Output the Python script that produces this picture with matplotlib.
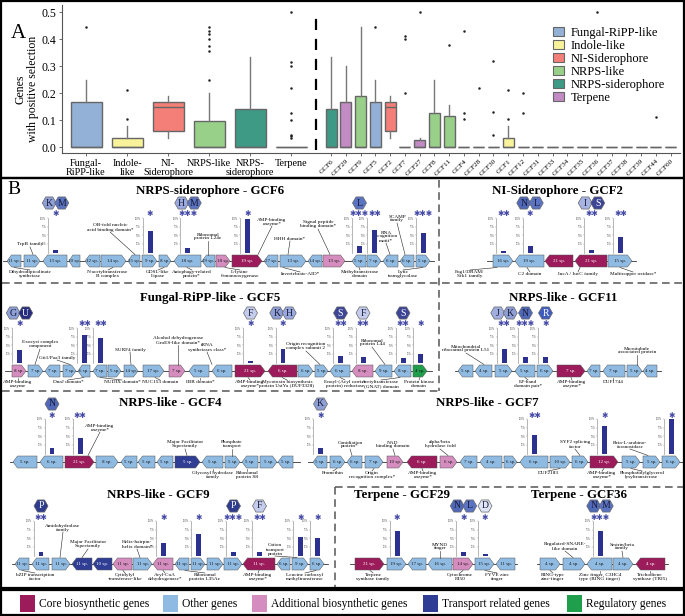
import numpy as np
import matplotlib
matplotlib.use('Agg')
from matplotlib import pyplot as plt
from matplotlib.patches import Polygon, RegularPolygon, Rectangle, Patch

plt.rcParams['font.family'] = ['Liberation Serif', 'DejaVu Serif', 'DejaVu Sans']

W, H = 685, 616

# ---------------- panel A data ----------------
BGC_TYPES = ['Fungal-RiPP-like', 'Indole-like', 'NI-Siderophore', 'NRPS-like',
             'NRPS-siderophore', 'Terpene']
BGC_TICKS = ['Fungal-\nRiPP-like', 'Indole-\nlike', 'NI-\nSiderophore', 'NRPS-like',
             'NRPS-\nsiderophore', 'Terpene']
TYPE_Q1 = [0, 0, 0.06, 0, 0, 0]
TYPE_MED = [0, 0, 0.148, 0, 0, 0]
TYPE_Q3 = [0.167, 0.033, 0.167, 0.095, 0.14, 0]
TYPE_WLO = [0, 0, 0.033, 0, 0, 0]
TYPE_WHI = [0.25, 0.077, 0.19, 0.2, 0.333, 0]
TYPE_FLIERS = [[0.444], [0.105, 0.21], [],
               [0.25, 0.357, 0.375, 0.4, 0.417, 0.429, 0.444], [],
               [0.033, 0.04, 0.043, 0.1, 0.125, 0.22, 0.3, 0.316, 0.5]]

GCF_NAMES = ['GCF6', 'GCF29', 'GCF9', 'GCF5', 'GCF2', 'GCF7', 'GCF27', 'GCF8', 'GCF11',
             'GCF4', 'GCF28', 'GCF30', 'GCF1', 'GCF12', 'GCF31', 'GCF33', 'GCF34',
             'GCF35', 'GCF36', 'GCF37', 'GCF38', 'GCF39', 'GCF44', 'GCF60']
GCF_TYPE = [4, 5, 3, 0, 2, 3, 5, 3, 3, 3, 5, 3, 1, 3, 3, 3, 5, 3, 5, 3, 3, 3, 3, 3]
GCF_Q1 = [0, 0, 0, 0, 0.06] + [0] * 19
GCF_MED = [0, 0, 0, 0, 0.149] + [0] * 19
GCF_Q3 = [0.14, 0.167, 0.19, 0.167, 0.167, 0, 0.025, 0.125, 0.114, 0, 0, 0, 0.033] + [0] * 11
GCF_WLO = [0, 0, 0, 0, 0.033] + [0] * 19
GCF_WHI = [0.333, 0.3, 0.445, 0.25, 0.19, 0, 0.033, 0.25, 0.154, 0, 0, 0, 0.077] + [0] * 11
GCF_FLIERS = [[], [], [], [0.444], [], [0.2, 0.4, 0.412], [0.5], [], [0.378],
              [0.103, 0.127, 0.43], [0.22], [0.044, 0.13, 0.32], [0.105, 0.21],
              [0.125, 0.2], [], [], [], [], [0.5], [], [], [], [0.111], []]

TYPE_COLORS = ['#93b0d7', '#f8f39b', '#f47f78', '#98d08a', '#3e9985', '#c28bc3']

# ---------------- panel B data ----------------
# genes: (species, kind, direction); kind c=core o=other a=additional t=transport r=regulatory
# bars: (gene index, % of species under positive selection, n stars, domain badges)
# notes: (text, text x, text edge y, gene x)
GCF6_GENES = [(11, 'o', -1), (11, 'o', 1), (13, 'o', -1), (10, 'o', -1), (12, 'o', -1),
              (14, 'o', 1), (15, 'o', -1), (9, 'o', 1), (8, 'o', 1), (18, 'o', -1),
              (19, 'o', -1), (18, 'a', 1), (19, 'c', 1), (27, 'o', -1), (13, 'o', 1),
              (14, 'o', -1), (13, 'a', 1), (5, 'o', -1), (7, 'o', 1), (6, 'o', -1),
              (6, 'o', -1), (5, 'o', 1)]
GCF6_BARS = [(2, 7, 1, 'KM'), (7, 63, 1, ''), (9, 12, 3, 'HM'), (12, 98, 1, ''),
             (17, 20, 3, 'L'), (18, 65, 2, ''), (21, 57, 3, '')]
GCF6_UP = [('TrpB family', 30, 247, 33), ('OB-fold nucleic\nacid binding domain*', 110, 232, 135),
           ('Ribosomal\nprotein L24e', 208, 241, 208), ('AMP-binding\nenzyme*', 272, 226, 258),
           ('HHH domain*', 290, 241, 288), ('Signal peptide\nbinding domain*', 318, 229, 330),
           ('SCAMP\nfamily', 397, 223, 405), ('RNA\nrecognition\nmotif*', 386, 243, 390)]
GCF6_DOWN = [('Dihydrodipicolinate\nsynthetase', 30, 270, 14), ('N-acetyltransferase\nB complex', 108, 270, 113),
             ('GDSL-like\nLipase', 158, 270, 164), ('Autophagy-related\nprotein*', 192, 270, 187),
             ('L-lysine\n6-monooxygenase', 240, 270, 225), ('Invertebrate-AID*', 300, 272, 283),
             ('Methyltransferase\ndomain', 360, 270, 359), ('Lytic\ntransglycolase', 403, 270, 423)]

GCF2_GENES = [(16, 'o', 1), (19, 'o', -1), (21, 'c', -1), (21, 'c', -1), (15, 'o', 1)]
GCF2_BARS = [(0, 5, 2, ''), (1, 20, 1, 'NL'), (3, 7, 2, 'IS'), (4, 45, 2, '')]
GCF2_UP = []
GCF2_DOWN = [('Fog1/DRAM/\nSfk1 family', 470, 270, 497), ('C2 domain', 530, 272, 527),
             ('IucA / IucC family', 578, 272, 580), ('Multicopper oxidase*', 633, 272, 620)]

GCF5_GENES = [(8, 'a', 1), (7, 'o', 1), (7, 'o', -1), (7, 'o', 1), (6, 'o', -1), (7, 'o', -1),
              (5, 'o', 1), (14, 'o', 1), (17, 'o', 1), (7, 'a', 1), (5, 'o', -1), (6, 'o', -1),
              (21, 'c', 1), (6, 'c', -1), (6, 'o', 1), (5, 'o', 1), (6, 'o', -1), (8, 'a', -1),
              (9, 'o', -1), (8, 'o', -1), (4, 'r', 1)]
GCF5_BARS = [(0, 35, 1, 'GU'), (4, 80, 2, ''), (5, 72, 2, ''), (12, 5, 1, 'F'),
             (13, 38, 1, 'KH'), (16, 20, 2, 'S'), (17, 15, 2, 'F'), (19, 13, 2, 'S'),
             (20, 25, 1, '')]
GCF5_UP = [('Exocyst complex\ncomponent', 40, 349, 35), ('Git1/Paa3 family', 57, 360, 70),
           ('SURF4 family', 130, 352, 131), ('Alcohol dehydrogenase\nGroES-like domain*', 178, 345, 178),
           ('tRNA\nsynthetases class*', 207, 352, 212), ('Origin recognition\ncomplex subunit 2', 306, 351, 320),
           ('Ribosomal\nprotein L44', 372, 347, 385)]
GCF5_DOWN = [('AMP-binding\nenzyme', 18, 380, 18), ('DnaJ domain*', 68, 380, 84),
             ('NUDIX domain*', 122, 380, 100), ('NUC153 domain', 160, 380, 155),
             ('IBR domain*', 200, 380, 200), ('AMP-binding\nenzyme*', 250, 380, 248),
             ('Mycotoxin biosynthesis\nprotein UstYa (DUF3328)', 287, 380, 282),
             ('Enoyl-(Acyl carrier\nprotein) reductase', 345, 380, 340),
             ('Acetyltransferase\n(GNAT) domain', 381, 380, 400), ('Protein kinase\ndomain', 419, 380, 420)]

GCF11_GENES = [(5, 'o', -1), (4, 'o', -1), (5, 'o', 1), (5, 'o', -1), (6, 'o', 1), (7, 'c', 1),
               (7, 'o', -1), (7, 'o', -1), (5, 'o', 1), (4, 'o', -1)]
GCF11_BARS = [(2, 40, 2, 'JK'), (3, 17, 3, 'N'), (4, 15, 1, 'R')]
GCF11_UP = [('Mitochondrial\nribosomal protein L51', 466, 353, 484),
            ('Microtubule\nassociated protein', 637, 355, 637)]
GCF11_DOWN = [('EF-hand\ndomain pair*', 528, 380, 525), ('AMP-binding\nenzyme*', 572, 380, 571),
              ('DUF1744', 613, 380, 613)]

GCF4_GENES = [(5, 'o', -1), (6, 'o', -1), (21, 'c', 1), (8, 'o', 1), (5, 'o', -1), (5, 'o', -1),
              (5, 'o', -1), (5, 't', 1), (5, 'o', -1), (5, 'o', 1), (5, 'o', -1), (5, 'o', 1),
              (5, 'o', -1)]
GCF4_BARS = [(1, 17, 1, 'N'), (2, 45, 2, '')]
GCF4_UP = [('AMP-binding\nenzyme*', 100, 432, 88), ('Major Facilitator\nSuperfamily', 185, 449, 187),
           ('Phosphate\ntransport', 232, 449, 232)]
GCF4_DOWN = [('Glycosyl hydrolase\nfamily', 213, 471, 213), ('Ribosomal\nprotein S8', 247, 471, 247)]

GCF7_GENES = [(5, 'o', -1), (6, 'o', 1), (6, 'o', -1), (7, 'o', 1), (10, 'a', 1), (6, 'c', -1),
              (6, 'a', 1), (7, 'o', -1), (4, 'o', -1), (6, 'o', 1), (6, 'o', -1), (10, 'o', 1),
              (6, 'o', 1), (12, 'c', 1), (5, 'o', 1), (5, 'o', 1), (6, 'o', 1)]
GCF7_BARS = [(0, 17, 1, 'K'), (10, 55, 2, ''), (13, 80, 1, ''), (16, 100, 1, '')]
GCF7_UP = [('Conidiation\nprotein*', 350, 449, 352), ('NAD\nbinding domain', 393, 449, 395),
           ('alpha/beta\nhydrolase fold', 440, 449, 448), ('SYF2 splicing\nfactor', 575, 449, 580),
           ('Beta-L-arabino-\nfuranosidase', 630, 449, 648)]
GCF7_DOWN = [('Promethin', 333, 471, 337), ('Origin\nrecognition complex*', 372, 471, 374),
             ('AMP-binding\nenzyme*', 423, 471, 422), ('DUF2183', 548, 471, 560),
             ('AMP-binding\nenzyme*', 602, 471, 604), ('Phosphatidylglycerol\nlysyltransferase', 642, 471, 631)]

GCF9_GENES = [(11, 'o', -1), (11, 'o', -1), (11, 'o', 1), (11, 't', -1), (10, 't', -1),
              (11, 'a', -1), (11, 'o', 1), (11, 'a', -1), (11, 'o', -1), (11, 'o', 1),
              (11, 'o', 1), (11, 'o', 1), (11, 'c', -1), (6, 'o', -1), (9, 'o', 1), (6, 'o', 1)]
GCF9_BARS = [(1, 10, 2, 'P'), (7, 37, 1, ''), (9, 63, 1, ''), (11, 10, 3, 'P'),
             (12, 10, 2, 'F'), (14, 55, 1, ''), (15, 50, 1, '')]
GCF9_UP = [('Amidohydrolase\nfamily', 63, 532, 60), ('Major Facilitator\nSuperfamily', 88, 549, 82),
           ('Helix-hairpin-\nhelix domain*', 137, 549, 140), ('Cation\ntransport\nprotein', 275, 556, 297)]
GCF9_DOWN = [('bZIP transcription\nfactor', 35, 573, 22), ('Cytidylyl\n-transferase-like', 125, 573, 123),
             ('Acyl-CoA\ndehydrogenase*', 165, 573, 163), ('Ribosomal\nprotein L35Ae', 205, 573, 185),
             ('AMP-binding\nenzyme*', 258, 573, 259), ('Leucine carboxyl\nmethyltransferase', 305, 573, 316)]

GCF29_GENES = [(21, 'c', 1), (19, 'o', 1), (17, 'o', -1), (16, 'o', -1), (14, 'a', 1),
               (15, 'o', 1), (11, 'o', -1)]
GCF29_BARS = [(1, 70, 1, ''), (4, 10, 1, 'NL'), (5, 5, 1, 'D')]
GCF29_UP = [('MYND\nfinger', 440, 551, 440)]
GCF29_DOWN = [('Terpene\nsynthase family', 373, 573, 370), ('Cytochrome\nP450', 460, 573, 463),
              ('FYVE zinc\nfinger', 497, 573, 485)]

GCF36_GENES = [(4, 'o', 1), (4, 'o', 1), (4, 'o', -1), (4, 'o', 1), (4, 'c', -1)]
GCF36_BARS = [(2, 70, 3, 'NM')]
GCF36_UP = [('Regulated-SNARE-\nlike domain', 565, 551, 573), ('Sestrin/beta\nfamily', 622, 551, 623)]
GCF36_DOWN = [('RING-type\nzinc-finger', 553, 573, 550),
              ('Zinc finger, C3HC4\ntype (RING finger)', 600, 573, 600),
              ('Trichodiene\nsynthase (TRI5)', 650, 573, 650)]

GENE_KINDS = ['c', 'o', 'a', 't', 'r']
GENE_KIND_LABELS = ['Core biosynthetic genes', 'Other genes', 'Additional biosynthetic genes',
                    'Transport related genes', 'Regulatory genes']

# ---------------- layout (pixels of the 685x616 canvas) ----------------
LAYOUT = {
    'GCF6': dict(title='NRPS-siderophore - GCF6', tx=210, ty=191, row=261, line=(3, 434),
                 spans=[(7, 21), (24, 40), (43, 67), (69, 80), (85, 100), (101, 126), (128, 140),
                        (142, 157), (159, 171), (174, 201), (202, 215), (216, 230), (232, 262),
                        (264, 278), (280, 306), (308, 322), (323, 345), (352, 366), (367, 381),
                        (383, 398), (400, 414), (416, 430)]),
    'GCF2': dict(title='NI-Siderophore - GCF2', tx=557, ty=191, row=261, line=(487, 636),
                 spans=[(493, 513), (515, 544), (545, 573), (575, 607), (608, 632)]),
    'GCF5': dict(title='Fungal-RiPP-like - GCF5', tx=210, ty=298, row=371, line=(5, 432),
                 spans=[(12, 26), (28, 43), (45, 60), (63, 76), (78, 90), (93, 107), (108, 121),
                        (124, 138), (143, 164), (169, 185), (189, 209), (212, 232), (235, 265),
                        (268, 297), (298, 313), (315, 328), (330, 350), (352, 373), (375, 392),
                        (394, 411), (413, 427)]),
    'GCF11': dict(title='NRPS-like - GCF11', tx=563, ty=298, row=371, line=(455, 661),
                  spans=[(458, 473), (475, 492), (495, 512), (515, 535), (537, 553), (557, 585),
                         (587, 600), (603, 625), (627, 642), (643, 657)]),
    'GCF4': dict(title='NRPS-like - GCF4', tx=170, ty=403, row=462, line=(10, 300),
                 spans=[(13, 37), (40, 63), (65, 94), (96, 118), (121, 137), (138, 155), (157, 173),
                        (175, 200), (202, 223), (225, 240), (242, 258), (260, 277), (278, 293)]),
    'GCF7': dict(title='NRPS-like - GCF7', tx=487, ty=403, row=462, line=(308, 685),
                 spans=[(313, 327), (330, 345), (347, 362), (365, 383), (387, 403), (407, 437),
                        (440, 457), (460, 477), (480, 502), (504, 517), (520, 548), (550, 570),
                        (572, 588), (590, 618), (622, 640), (643, 660), (662, 680)]),
    'GCF9': dict(title='NRPS-like - GCF9', tx=158, ty=495, row=564, line=(12, 328),
                 spans=[(15, 29), (32, 49), (52, 70), (72, 92), (93, 112), (113, 132), (133, 152),
                        (153, 173), (175, 189), (191, 205), (207, 223), (224, 242), (243, 275),
                        (277, 290), (292, 308), (310, 324)]),
    'GCF29': dict(title='Terpene - GCF29', tx=402, ty=495, row=564, line=(350, 517),
                  spans=[(355, 384), (387, 406), (408, 426), (428, 452), (453, 473), (475, 494),
                         (496, 515)]),
    'GCF36': dict(title='Terpene - GCF36', tx=579, ty=495, row=564, line=(537, 668),
                  spans=[(540, 560), (563, 585), (587, 612), (613, 633), (636, 665)]),
}
CLUSTER_DATA = {
    'GCF6': (GCF6_GENES, GCF6_BARS, GCF6_UP, GCF6_DOWN),
    'GCF2': (GCF2_GENES, GCF2_BARS, GCF2_UP, GCF2_DOWN),
    'GCF5': (GCF5_GENES, GCF5_BARS, GCF5_UP, GCF5_DOWN),
    'GCF11': (GCF11_GENES, GCF11_BARS, GCF11_UP, GCF11_DOWN),
    'GCF4': (GCF4_GENES, GCF4_BARS, GCF4_UP, GCF4_DOWN),
    'GCF7': (GCF7_GENES, GCF7_BARS, GCF7_UP, GCF7_DOWN),
    'GCF9': (GCF9_GENES, GCF9_BARS, GCF9_UP, GCF9_DOWN),
    'GCF29': (GCF29_GENES, GCF29_BARS, GCF29_UP, GCF29_DOWN),
    'GCF36': (GCF36_GENES, GCF36_BARS, GCF36_UP, GCF36_DOWN),
}

KIND_FILL = {'c': '#9c1b5b', 'o': '#8fbbe3', 'a': '#d58cbf', 't': '#2f3e94', 'r': '#1f9e4c'}
KIND_TEXT = {'c': 'white', 'o': '#1a1a1a', 'a': '#1a1a1a', 't': 'white', 'r': '#1a1a1a'}
BADGE_FILL = {'K': '#8e9fd6', 'M': '#5b74c2', 'H': '#9aaae0', 'L': '#5b74c2', 'N': '#5068b8',
              'I': '#a7b4e3', 'S': '#3d4596', 'G': '#8ea0d8', 'U': '#262c7e', 'F': '#c5cdee',
              'J': '#a1afe0', 'R': '#3f5bbf', 'P': '#2f3c8e', 'D': '#dfe5f7'}
BADGE_DARK = set('SURP')
BAR_COLOR = '#2c3190'
STAR_COLOR = '#454aa6'

fig = plt.figure(figsize=(W / 100, H / 100), dpi=100)

# canvas axes in pixel units for panel B and frames
bx = fig.add_axes([0, 0, 1, 1])
bx.set_xlim(0, W)
bx.set_ylim(H, 0)
bx.axis('off')

# ---------------- panel A ----------------
ax = fig.add_axes([62 / W, 1 - 153 / H, 618 / W, 148 / H])
ax.set_xlim(62, 680)
ax.set_ylim(-0.022, 0.526)
ax.patch.set_alpha(0)

type_pos = [86 + 41 * i for i in range(len(BGC_TYPES))]
gcf_pos = [331 + 14.77 * j for j in range(len(GCF_NAMES))]

type_stats = [dict(q1=a, med=b, q3=c, whislo=d, whishi=e, fliers=f)
              for a, b, c, d, e, f in zip(TYPE_Q1, TYPE_MED, TYPE_Q3, TYPE_WLO, TYPE_WHI, TYPE_FLIERS)]
gcf_stats = [dict(q1=a, med=b, q3=c, whislo=d, whishi=e, fliers=f)
             for a, b, c, d, e, f in zip(GCF_Q1, GCF_MED, GCF_Q3, GCF_WLO, GCF_WHI, GCF_FLIERS)]

box_kw = dict(patch_artist=True, showcaps=False,
              boxprops=dict(edgecolor='#666666', linewidth=1.0),
              medianprops=dict(color='#666666', linewidth=1.0),
              whiskerprops=dict(color='#777777', linewidth=1.0),
              flierprops=dict(marker='o', markersize=1.8, markerfacecolor='#222222',
                              markeredgecolor='none'))
b1 = ax.bxp(type_stats, positions=type_pos, widths=31, **box_kw)
for patch, col in zip(b1['boxes'], TYPE_COLORS):
    patch.set_facecolor(col)
b2 = ax.bxp(gcf_stats, positions=gcf_pos, widths=11, **box_kw)
for patch, t in zip(b2['boxes'], GCF_TYPE):
    patch.set_facecolor(TYPE_COLORS[t])

ax.plot([316, 316], [-0.012, 0.5], color='black', lw=1.6, dashes=(5, 4))

ax.set_xticks(type_pos + gcf_pos)
ax.set_xticklabels(BGC_TICKS + GCF_NAMES)
for lab in ax.get_xticklabels()[:len(BGC_TICKS)]:
    lab.set_fontsize(7.4)
    lab.set_linespacing(1.0)
for lab in ax.get_xticklabels()[len(BGC_TICKS):]:
    lab.set_fontsize(5.2)
    lab.set_rotation(45)
    lab.set_ha('right')
    lab.set_rotation_mode('anchor')
ax.tick_params(axis='x', length=2.5, width=0.6, color='#555555', pad=1.5)
ax.set_yticks([0, 0.1, 0.2, 0.3, 0.4, 0.5])
ax.set_yticklabels(['0.0', '0.1', '0.2', '0.3', '0.4', '0.5'], fontsize=8.5)
ax.tick_params(axis='y', length=2.5, width=0.6, color='#555555', pad=1.5)
for s in ('top', 'right'):
    ax.spines[s].set_visible(False)
for s in ('left', 'bottom'):
    ax.spines[s].set_color('#555555')
    ax.spines[s].set_linewidth(0.8)
ax.set_ylabel('Genes\nwith positive selection', fontsize=8.5, linespacing=1.0)
ax.yaxis.set_label_coords(-0.038, 0.43)

handles = [Patch(facecolor=c, edgecolor='#666666', linewidth=0.8) for c in TYPE_COLORS]
ax.legend(handles, BGC_TYPES, loc='upper left', bbox_to_anchor=((553 - 62) / 618, (153 - 27) / 148),
          frameon=False, fontsize=9, handlelength=0.9, handleheight=0.75, labelspacing=0.08,
          handletextpad=0.5, borderpad=0, borderaxespad=0)

bx.text(18, 33, 'A', fontsize=15, ha='center', va='center')
bx.text(14, 190, 'B', fontsize=14, ha='center', va='center')

# ---------------- panel B ----------------
def mini_bar(cx, row, pct):
    left = cx - 7
    bottom = row - 8.5
    top = row - 43
    m = fig.add_axes([left / W, 1 - bottom / H, 10 / W, (bottom - top) / H])
    m.bar([0.75], [pct], width=0.5, color=BAR_COLOR)
    m.set_xlim(0, 1)
    m.set_ylim(0, 100)
    m.set_xticks([])
    m.set_yticks([25, 50, 75, 100])
    m.set_yticklabels(['25%', '50%', '75%', '100%'], fontsize=1.8, color='#444444')
    m.tick_params(axis='y', length=1.0, width=0.3, pad=0.3, color='#888888')
    for s in ('top', 'right', 'bottom'):
        m.spines[s].set_visible(False)
    m.spines['left'].set_linewidth(0.5)
    m.spines['left'].set_color('#999999')
    m.patch.set_alpha(0)


def draw_cluster(key):
    lay = LAYOUT[key]
    genes, bars, ups, downs = CLUSTER_DATA[key]
    row, spans = lay['row'], lay['spans']
    bx.text(lay['tx'], lay['ty'], lay['title'], fontsize=9.3, fontweight='bold',
            ha='center', va='center')
    bx.plot(lay['line'], [row, row], color='#333333', lw=0.6, zorder=1)
    h = 6.0
    for (n, kind, d), (x0, x1) in zip(genes, spans):
        tip = min(4.5, 0.35 * (x1 - x0))
        if d > 0:
            pts = [(x0, row - h), (x1 - tip, row - h), (x1, row), (x1 - tip, row + h), (x0, row + h)]
        else:
            pts = [(x1, row - h), (x0 + tip, row - h), (x0, row), (x0 + tip, row + h), (x1, row + h)]
        bx.add_patch(Polygon(pts, closed=True, facecolor=KIND_FILL[kind], edgecolor='#555555',
                             linewidth=0.35, zorder=2))
        bx.text((x0 + x1) / 2, row, f'{n} sp.', fontsize=3.6, color=KIND_TEXT[kind],
                ha='center', va='center', zorder=3)
    for gi, pct, nstar, badges in bars:
        x0, x1 = spans[gi]
        cx = (x0 + x1) / 2
        mini_bar(cx, row, pct)
        sx = cx + 0.5
        bx.text(sx, row - 47, '\u2731' * nstar, fontsize=5.5, color=STAR_COLOR,
                family='DejaVu Sans', ha='center', va='center')
        nb = len(badges)
        for k, letter in enumerate(badges):
            hx = sx + (k - (nb - 1) / 2) * 12.5
            bx.add_patch(RegularPolygon((hx, row - 58), 6, radius=7, orientation=np.pi / 6,
                                        facecolor=BADGE_FILL[letter], edgecolor='#666666',
                                        linewidth=0.5, zorder=3))
            bx.text(hx, row - 58, letter, fontsize=7, ha='center', va='center', zorder=4,
                    color='white' if letter in BADGE_DARK else '#1a1a33')
    for text, tx, ty, gx in ups:
        bx.text(tx, ty - 0.5, text, fontsize=3.8, ha='center', va='bottom', linespacing=1.0)
        bx.plot([tx, gx], [ty, row - h - 0.5], color='#222222', lw=0.4)
    for text, tx, ty, gx in downs:
        bx.text(tx, ty, text, fontsize=3.8, ha='center', va='top', linespacing=1.0)
        bx.plot([gx, tx], [row + h + 0.5, ty], color='#222222', lw=0.4)


for key in LAYOUT:
    draw_cluster(key)

# dashed separators
dash = dict(color='#555555', lw=1.1, dashes=(5, 3))
bx.plot([439, 439], [180, 391], **dash)
bx.plot([2, 683], [283, 283], **dash)
bx.plot([2, 439], [391, 391], **dash)
bx.plot([335, 335], [487, 587], **dash)
bx.plot([335, 683], [487, 487], **dash)

# frames
for y0, y1 in ((1, 178), (178, 588), (590, 615)):
    bx.add_patch(Rectangle((1, y0), W - 2, y1 - y0, fill=False, edgecolor='black',
                           linewidth=1.6, clip_on=False))

# bottom legend
leg_x = [20, 163, 252, 423, 567]
for x, kind, lab in zip(leg_x, GENE_KINDS, GENE_KIND_LABELS):
    bx.add_patch(Rectangle((x, 595), 15, 17, facecolor=KIND_FILL[kind], edgecolor='none'))
    bx.text(x + 19, 603.5, lab, fontsize=8.3, ha='left', va='center')

fig.savefig('out.png', dpi=100)
